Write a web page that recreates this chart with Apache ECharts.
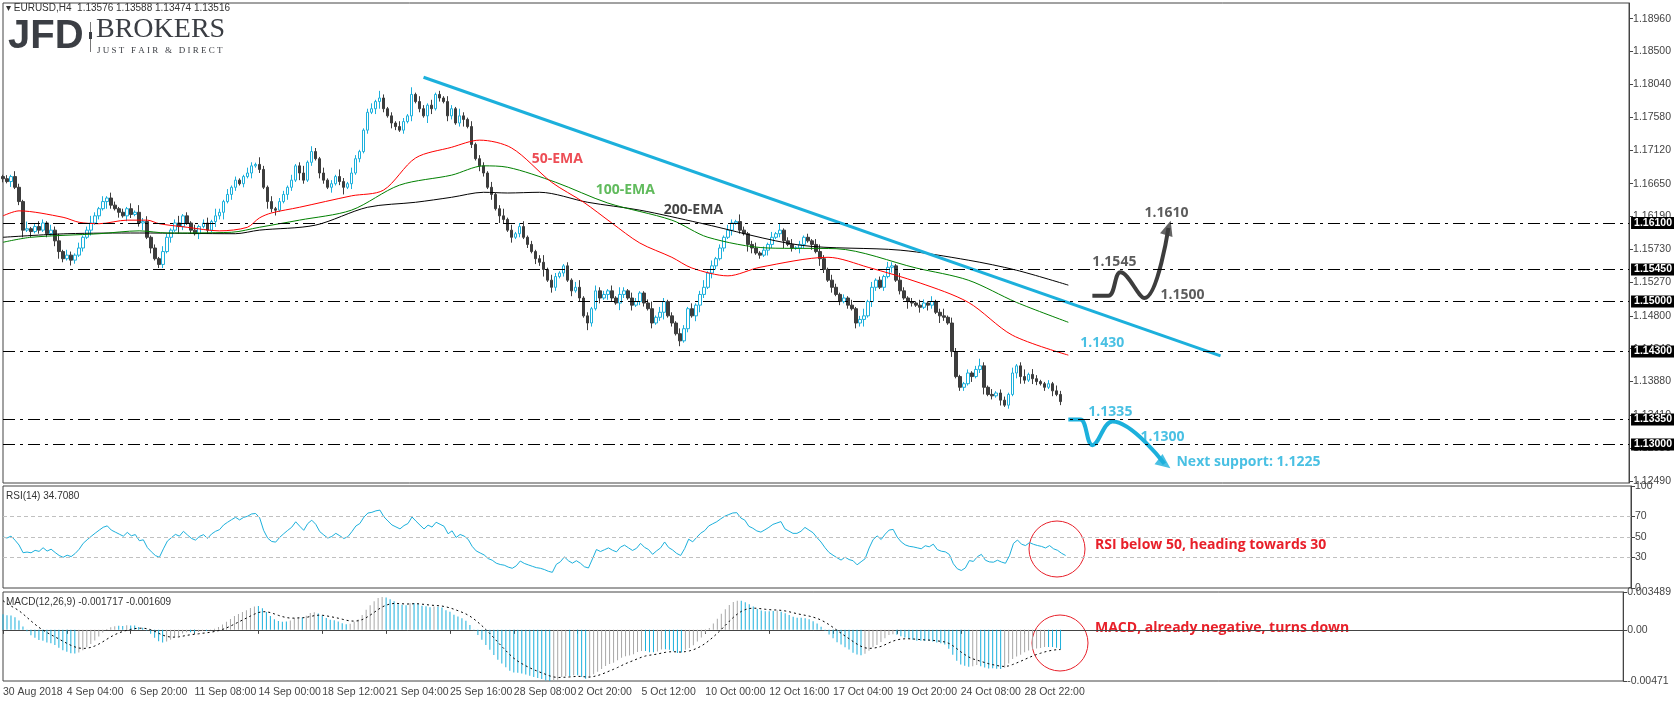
<!DOCTYPE html>
<html>
<head>
<meta charset="utf-8">
<script src="https://cdn.jsdelivr.net/npm/echarts@6/dist/echarts.min.js"></script>
<style>
  html, body { margin: 0; padding: 0; background: #fff; }
  #chart { width: 1674px; height: 702px; }
</style>
</head>
<body>
<div id="chart"></div>
<script>
// EURUSD H4 closes, in pips above 1.1000
const closePips = [
  672,668,675,660,640,600,602,598,605,
  600,610,595,600,585,570,560,565,558,
  565,575,590,600,610,620,630,640,645,
  635,630,625,620,630,622,625,610,612,
  590,575,560,552,570,590,600,610,605,
  620,610,600,595,605,610,600,612,620,
  625,640,650,660,670,665,675,680,690,
  692,685,660,640,630,628,640,650,660,
  670,690,680,670,695,710,700,680,670,
  660,665,675,668,660,665,680,700,710,
  740,765,770,780,785,770,760,750,745,
  740,752,760,790,780,770,760,775,770,
  790,785,780,760,770,750,760,755,745,
  720,700,690,680,660,650,630,620,615,
  600,590,595,605,590,580,570,560,555,
  545,530,520,535,540,550,530,515,520,
  505,480,470,490,515,505,510,515,505,
  498,510,515,505,495,500,512,498,490,
  470,478,485,500,480,470,455,445,462,
  490,480,495,510,520,540,550,560,575,
  590,600,610,612,600,595,580,575,568,
  565,572,580,590,595,600,585,580,575,
  575,580,590,585,580,570,560,545,530,
  520,510,500,505,495,490,470,475,480,
  500,520,530,520,535,548,550,530,515,505,
  500,498,495,492,498,495,500,485,480,478,
  470,430,395,380,385,400,395,405,410,380,
  370,368,372,362,355,370,400,410,395,390,
  398,392,388,385,380,385,375,370,360,352
];
// wick lengths per bar, in units of 2.5 pips
const wickUp = "1213214123213241321312421313212131423121321241213123142131211321421312213124132131214213211231421213214132131213214213122131241312312124132112134121322131421321124132121321312413121321421231213141231212134213212131241312132142121321312413211212421312213124132112132";
const wickDn = "2131241312121342132121312142131321241312213142121312132413212131214231132142121321312413121213421321213121431213212412132131421312121324132121312142131321421312213124121312134213212131214312132124121321314213121213241321213121421313214213122131241213121342132121312";
const dateLabels = ["30 Aug 2018","4 Sep 04:00","6 Sep 20:00","11 Sep 08:00","14 Sep 00:00","18 Sep 12:00","21 Sep 04:00","25 Sep 16:00","28 Sep 08:00","2 Oct 20:00","5 Oct 12:00","10 Oct 00:00","12 Oct 16:00","17 Oct 04:00","19 Oct 20:00","24 Oct 08:00","28 Oct 22:00"];
const priceTicks = [1.1249,1.1295,1.1341,1.1388,1.1434,1.1480,1.1527,1.1573,1.1619,1.1665,1.1712,1.1758,1.1804,1.1850,1.1896];
const levels = [1.1610, 1.1545, 1.1500, 1.1430, 1.1335, 1.1300];
const lastPrice = 1.13516;
// moving averages: [bar, price]
const ema50 = [[0,1.1620],[4,1.1627],[15,1.1618],[19,1.1611],[24,1.1609],[31,1.1614],[36,1.1614],[39,1.1609],[46,1.1604],[54,1.1599],[61,1.1604],[64,1.1617],[67,1.1624],[74,1.1632],[87,1.1648],[95,1.1656],[103,1.1701],[112,1.1716],[119,1.1726],[127,1.1715],[137,1.1667],[145,1.1639],[152,1.1610],[159,1.1582],[167,1.1562],[172,1.1547],[181,1.1536],[189,1.1548],[206,1.1562],[216,1.1548],[229,1.1526],[241,1.1499],[252,1.1453],[266,1.1425]];
const ema100 = [[0,1.1583],[7,1.1590],[24,1.1595],[34,1.1599],[41,1.1596],[57,1.1597],[64,1.1604],[74,1.1614],[87,1.1628],[99,1.1663],[112,1.1677],[120,1.1690],[126,1.1688],[138,1.1667],[151,1.1638],[167,1.1614],[176,1.1590],[191,1.1575],[208,1.1574],[228,1.1547],[241,1.1530],[253,1.1499],[266,1.1471]];
const ema200 = [[0,1.1590],[16,1.1595],[34,1.1596],[58,1.1595],[64,1.1600],[78,1.1607],[91,1.1632],[103,1.1639],[112,1.1646],[120,1.1653],[126,1.1652],[134,1.1653],[146,1.1639],[159,1.1628],[174,1.1610],[199,1.1579],[224,1.1572],[241,1.1558],[253,1.1544],[266,1.1523]];
const trendLine = [[105,1.1814],[304,1.1424]];
const bullPath = [[271.5,1.1508],[275.5,1.1508],[279,1.1541],[285,1.1505],[290.5,1.1603]];
const bearPath = [[265.5,1.1335],[268.5,1.1335],[272,1.1299],[277,1.1332],[290,1.1273]];
const rsiSeed = { gain: 0.0008, loss: 0.0008 };
const macdSeed = { fast: 1.1665, slow: 1.1650, signal: 0.0030 };

const NCAT = 407;
const categories = [];
for (let i = 0; i < NCAT; i++) {
  categories.push(i % 16 === 0 && i / 16 < dateLabels.length ? dateLabels[i / 16] : "");
}

const closes = closePips.map(p => +(1.1 + p / 10000).toFixed(5));
const candles = [];
for (let i = 0; i < closes.length; i++) {
  const o = i === 0 ? 1.1675 : closes[i - 1];
  const c = closes[i];
  const h = Math.max(o, c) + (+wickUp[i]) * 0.00025;
  const l = Math.min(o, c) - (+wickDn[i]) * 0.00025;
  candles.push([o, c, l, h]);
}

// RSI(14), Wilder smoothing
const rsi = [];
let ag = rsiSeed.gain, al = rsiSeed.loss;
for (let i = 0; i < closes.length; i++) {
  const d = i === 0 ? 0 : closes[i] - closes[i - 1];
  ag = (ag * 13 + Math.max(d, 0)) / 14;
  al = (al * 13 + Math.max(-d, 0)) / 14;
  rsi.push([i, +(100 - 100 / (1 + ag / al)).toFixed(2)]);
}

// MACD(12,26,9)
const macd = [], signal = [];
let ef = macdSeed.fast, es = macdSeed.slow, sg = macdSeed.signal, prev = null;
for (let i = 0; i < closes.length; i++) {
  ef += (closes[i] - ef) * 2 / 13;
  es += (closes[i] - es) * 2 / 27;
  const m = ef - es;
  sg += (m - sg) * 2 / 10;
  macd.push({ value: [i, m], itemStyle: { color: prev !== null && m > prev + 0.00004 ? "#a8a8a8" : "#1cb0dc" } });
  signal.push([i, sg]);
  prev = m;
}

const labelInterval = (i) => i % 16 === 0 && i / 16 < dateLabels.length;
const font = "Liberation Sans";
const dashDot = [12, 5, 3, 5];

const notes = [
  { value: [131.75, 1.1700], text: "50-EMA", color: "#e8202a" },
  { value: [147.5, 1.1656], text: "100-EMA", color: "#3aaa35" },
  { value: [164.75, 1.1628], text: "200-EMA", color: "#111" },
  { value: [272.2, 1.1555], text: "1.1545", color: "#333" },
  { value: [285, 1.1624], text: "1.1610", color: "#333" },
  { value: [288.5, 1.1509], text: "1.1500", color: "#333" },
  { value: [268.5, 1.1442], text: "1.1430", color: "#1cb0dc" },
  { value: [271, 1.1346], text: "1.1335", color: "#1cb0dc" },
  { value: [283.7, 1.1310], text: "1.1300", color: "#1cb0dc" },
  { value: [292.5, 1.1276], text: "Next support: 1.1225", color: "#1cb0dc" }
];

const chart = echarts.init(document.getElementById("chart"));
chart.setOption({
  animation: false,
  backgroundColor: "#fff",
  textStyle: { fontFamily: font },
  grid: [
    { left: 3, right: 43, top: 3, height: 480, show: true, borderColor: "#444", borderWidth: 1 },
    { left: 3, right: 43, top: 486, height: 102, show: true, borderColor: "#444", borderWidth: 1 },
    { left: 3, right: 43, top: 592, height: 89, show: true, borderColor: "#444", borderWidth: 1 }
  ],
  xAxis: [0, 1, 2].map(g => ({
    type: "category",
    gridIndex: g,
    data: categories,
    boundaryGap: false,
    axisLine: { show: g === 2, lineStyle: { color: "#444" } },
    axisTick: { show: g === 2, interval: labelInterval, length: 4, lineStyle: { color: "#444" } },
    axisLabel: { show: g === 2, interval: labelInterval, showMinLabel: true, align: "left", color: "#444", fontSize: 10.5, margin: 6, fontFamily: font },
    splitLine: { show: false }
  })),
  yAxis: [
    {
      type: "value", gridIndex: 0, position: "right", min: 1.1246, max: 1.1918, scale: true,
      axisLine: { show: true, lineStyle: { color: "#444" } },
      axisTick: { show: true, length: 4, customValues: priceTicks, lineStyle: { color: "#444" } },
      axisLabel: { customValues: priceTicks, formatter: v => v.toFixed(5), color: "#444", fontSize: 10.5, margin: 4, fontFamily: font },
      splitLine: { show: false }
    },
    {
      type: "value", gridIndex: 1, position: "right", min: 0, max: 100,
      axisLine: { show: true, lineStyle: { color: "#444" } },
      axisTick: { show: true, length: 4, customValues: [0, 30, 50, 70, 100], lineStyle: { color: "#444" } },
      axisLabel: { customValues: [0, 30, 50, 70, 100], color: "#444", fontSize: 10.5, margin: 4, fontFamily: font },
      splitLine: { show: false }
    },
    {
      type: "value", gridIndex: 2, position: "right", min: -0.00471, max: 0.003489,
      axisLine: { show: true, lineStyle: { color: "#444" } },
      axisTick: { show: true, length: 4, customValues: [-0.00471, 0, 0.003489], lineStyle: { color: "#444" } },
      axisLabel: { customValues: [-0.00471, 0, 0.003489], formatter: v => (v === 0 ? "0.00" : String(v)), color: "#444", fontSize: 10.5, margin: 4, fontFamily: font },
      splitLine: { show: false }
    }
  ],
  series: [
    {
      type: "candlestick", xAxisIndex: 0, yAxisIndex: 0, data: candles, barWidth: 3,
      itemStyle: { color: "#fff", color0: "#3d3d3d", borderColor: "#1cb0dc", borderColor0: "#3d3d3d", borderWidth: 1 },
      markLine: {
        symbol: "none", silent: true, precision: 5,
        lineStyle: { color: "#000", type: dashDot, width: 1 },
        label: { position: "end", distance: 2, formatter: p => p.data.yAxis.toFixed(5), backgroundColor: "#000", color: "#fff", fontSize: 10.5, fontWeight: "bold", fontFamily: font, padding: [1, 3, 0, 3] },
        data: levels.map(v => ({ yAxis: v })).concat([{ yAxis: lastPrice, lineStyle: { width: 0, opacity: 0 }, label: { backgroundColor: "#444" } }])
      }
    },
    { type: "line", xAxisIndex: 0, yAxisIndex: 0, data: ema200, smooth: 0.3, symbol: "none", lineStyle: { color: "#000", width: 1 } },
    { type: "line", xAxisIndex: 0, yAxisIndex: 0, data: ema100, smooth: 0.3, symbol: "none", lineStyle: { color: "#008000", width: 1 } },
    { type: "line", xAxisIndex: 0, yAxisIndex: 0, data: ema50, smooth: 0.3, symbol: "none", lineStyle: { color: "#ff0000", width: 1 } },
    { type: "line", xAxisIndex: 0, yAxisIndex: 0, data: trendLine, symbol: "none", lineStyle: { color: "#1cb0dc", width: 3 } },
    { type: "line", xAxisIndex: 0, yAxisIndex: 0, data: bullPath, smooth: 0.4, symbol: "none", lineStyle: { color: "#3d3d3d", width: 4 } },
    { type: "line", xAxisIndex: 0, yAxisIndex: 0, data: bearPath, smooth: 0.4, symbol: "none", lineStyle: { color: "#1cb0dc", width: 4 } },
    {
      type: "scatter", xAxisIndex: 0, yAxisIndex: 0, symbol: "triangle", symbolSize: [13, 15],
      data: [
        { value: bullPath[bullPath.length - 1], symbolRotate: -17, itemStyle: { color: "#3d3d3d" } },
        { value: bearPath[bearPath.length - 1], symbolRotate: -128, itemStyle: { color: "#1cb0dc" } }
      ]
    },
    {
      type: "scatter", xAxisIndex: 0, yAxisIndex: 0, symbolSize: 0, silent: true,
      data: notes.map(n => ({
        value: n.value,
        label: { show: true, position: "right", distance: 0, formatter: n.text, color: n.color, fontSize: 14, fontWeight: "bold", fontFamily: "Open Sans" }
      }))
    },
    {
      type: "line", xAxisIndex: 1, yAxisIndex: 1, data: rsi, symbol: "none", lineStyle: { color: "#1cb0dc", width: 1 },
      markLine: {
        symbol: "none", silent: true, label: { show: false },
        lineStyle: { color: "#c0c0c0", type: [4, 3], width: 1 },
        data: [{ yAxis: 30 }, { yAxis: 50 }, { yAxis: 70 }]
      }
    },
    { type: "bar", xAxisIndex: 2, yAxisIndex: 2, data: macd, barWidth: 1 },
    { type: "line", xAxisIndex: 2, yAxisIndex: 2, data: signal, symbol: "none", lineStyle: { color: "#000", width: 1, type: [2, 3] } }
  ],
  graphic: [
    { type: "text", left: 6, top: 3, style: { text: "▾ EURUSD,H4  1.13576 1.13588 1.13474 1.13516", fill: "#333", font: "10px Liberation Sans" } },
    { type: "text", left: 8, top: 17, style: { text: "JFD", fill: "#3b3e44", font: "bold 40px Liberation Sans" } },
    { type: "rect", shape: { x: 90, y: 22, width: 1, height: 30 }, style: { fill: "#777" } },
    { type: "rect", shape: { x: 89, y: 32, width: 3, height: 7 }, style: { fill: "#3b3e44" } },
    { type: "text", left: 96, top: 16, style: { text: "BROKERS", fill: "#3b3e44", font: "28px Liberation Serif" } },
    { type: "text", left: 97, top: 46, style: { text: "J U S T   F A I R   &   D I R E C T", fill: "#3b3e44", font: "9px Liberation Serif" } },
    { type: "text", left: 6, top: 491, style: { text: "RSI(14) 34.7080", fill: "#333", font: "10px Liberation Sans" } },
    { type: "text", left: 6, top: 597, style: { text: "MACD(12,26,9) -0.001717 -0.001609", fill: "#333", font: "10px Liberation Sans" } },
    { type: "circle", shape: { cx: 1057, cy: 549, r: 28 }, style: { fill: "none", stroke: "#e8202a", lineWidth: 1 } },
    { type: "circle", shape: { cx: 1060, cy: 643, r: 28 }, style: { fill: "none", stroke: "#e8202a", lineWidth: 1 } },
    { type: "text", left: 1095, top: 538, style: { text: "RSI below 50, heading towards 30", fill: "#e8202a", font: "bold 14px Open Sans" } },
    { type: "text", left: 1095, top: 621, style: { text: "MACD, already negative, turns down", fill: "#e8202a", font: "bold 14px Open Sans" } }
  ]
});
</script>
</body>
</html>
